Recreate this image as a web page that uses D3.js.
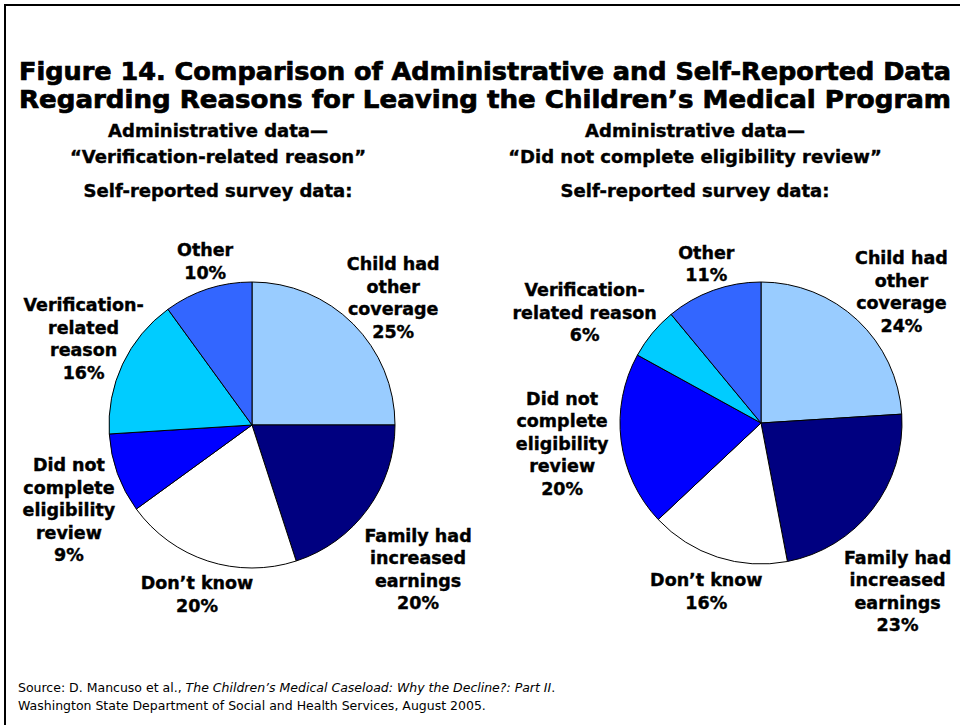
<!DOCTYPE html>
<html>
<head>
<meta charset="utf-8">
<script src="https://cdn.jsdelivr.net/npm/d3@7"></script>
<style>
  body { margin: 0; background: #fff; }
  svg text { font-family: "DejaVu Sans", Arial, sans-serif; }
</style>
</head>
<body>
<div id="chart"></div>
<script>
// slice categories, clockwise from 12 o'clock
var categories = [
    ["Child had", "other", "coverage"],
    ["Family had", "increased", "earnings"],
    ["Don\u2019t know"],
    ["Did not", "complete", "eligibility", "review"],
    ["Verification-", "related", "reason"],
    ["Other"]
];
var categoriesRight = [
    ["Child had", "other", "coverage"],
    ["Family had", "increased", "earnings"],
    ["Don\u2019t know"],
    ["Did not", "complete", "eligibility", "review"],
    ["Verification-", "related reason"],
    ["Other"]
];
var leftValues = [25, 20, 20, 9, 16, 10];
var rightValues = [24, 23, 16, 20, 6, 11];
var sliceColors = ["#99CCFF", "#000080", "#FFFFFF", "#0000FF", "#00CCFF", "#3366FF"];

var titleLines = [
    "Figure 14. Comparison of Administrative and Self-Reported Data",
    "Regarding Reasons for Leaving the Children\u2019s Medical Program"
];
var leftHeads = ["Administrative data\u2014", "\u201CVerification-related reason\u201D"];
var rightHeads = ["Administrative data\u2014", "\u201CDid not complete eligibility review\u201D"];
var surveyHead = "Self-reported survey data:";

// label placement: [angle in degrees, distance from centre]
var leftLabelPos = [[48, 190], [131, 220], [198, 178], [245, 202], [297, 189], [344, 170]];
var rightLabelPos = [[47, 192], [141, 217], [198, 177], [264, 200], [302, 208], [341, 168]];

var width = 960, height = 725;

var svg = d3.select("#chart").append("svg")
    .attr("width", width)
    .attr("height", height);

svg.append("rect")
    .attr("x", 5).attr("y", 5)
    .attr("width", width + 10).attr("height", height + 10)
    .attr("fill", "#fff")
    .attr("stroke", "#000")
    .attr("stroke-width", 2);

svg.selectAll(".title")
    .data(titleLines)
    .enter().append("text")
    .attr("class", "title")
    .attr("x", 485)
    .attr("y", (d, i) => 80 + i * 28)
    .attr("text-anchor", "middle")
    .attr("font-size", "24px")
    .attr("font-weight", "900")
    .attr("stroke", "#000")
    .attr("stroke-width", 0.7)
    .attr("textLength", 932)
    .attr("lengthAdjust", "spacingAndGlyphs")
    .text(d => d);

function drawHeads(cx, heads) {
    svg.selectAll(null)
        .data(heads)
        .enter().append("text")
        .attr("x", cx)
        .attr("y", (d, i) => 137 + i * 26)
        .attr("text-anchor", "middle")
        .attr("font-size", "18px")
        .attr("font-weight", "bold")
        .attr("stroke", "#000")
        .attr("stroke-width", 0.4)
        .text(d => d);
    svg.append("text")
        .attr("x", cx)
        .attr("y", 197)
        .attr("text-anchor", "middle")
        .attr("font-size", "18px")
        .attr("font-weight", "bold")
        .attr("stroke", "#000")
        .attr("stroke-width", 0.4)
        .text(surveyHead);
}

function drawPie(cx, cy, r, values, names, labelPos) {
    var pie = d3.pie().sort(null).value(d => d);
    var arcs = pie(values);
    var arc = d3.arc().innerRadius(0).outerRadius(r);

    var g = svg.append("g").attr("transform", "translate(" + cx + "," + cy + ")");

    g.selectAll("path")
        .data(arcs)
        .enter().append("path")
        .attr("d", arc)
        .attr("fill", (d, i) => sliceColors[i])
        .attr("stroke", "#000")
        .attr("stroke-width", 1);

    var lineH = 22.5;
    arcs.forEach(function(d, i) {
        var lines = names[i].concat([d.data + "%"]);
        var a = labelPos[i][0] * Math.PI / 180, dist = labelPos[i][1];
        var x = dist * Math.sin(a), y = -dist * Math.cos(a);
        var top = y - (lines.length - 1) * lineH / 2;
        g.append("text")
            .attr("text-anchor", "middle")
            .attr("font-size", "17.5px")
            .attr("font-weight", "bold")
            .attr("stroke", "#000")
            .attr("stroke-width", 0.4)
            .selectAll("tspan")
            .data(lines)
            .enter().append("tspan")
            .attr("x", x)
            .attr("y", (t, j) => top + j * lineH + 6)
            .text(t => t);
    });
}

drawHeads(218, leftHeads);
drawHeads(695, rightHeads);
drawPie(252, 425, 143, leftValues, categories, leftLabelPos);
drawPie(761, 423, 141, rightValues, categoriesRight, rightLabelPos);

var source = svg.append("text")
    .attr("x", 18).attr("y", 692)
    .attr("font-family", "Liberation Sans, Arial, sans-serif")
    .attr("font-size", "12.5px");
source.append("tspan").text("Source: D. Mancuso et al., ");
source.append("tspan").attr("font-style", "italic")
    .text("The Children\u2019s Medical Caseload: Why the Decline?: Part II");
source.append("tspan").text(".");
svg.append("text")
    .attr("x", 18).attr("y", 710)
    .attr("font-family", "Liberation Sans, Arial, sans-serif")
    .attr("font-size", "12.5px")
    .text("Washington State Department of Social and Health Services, August 2005.");
</script>
</body>
</html>
